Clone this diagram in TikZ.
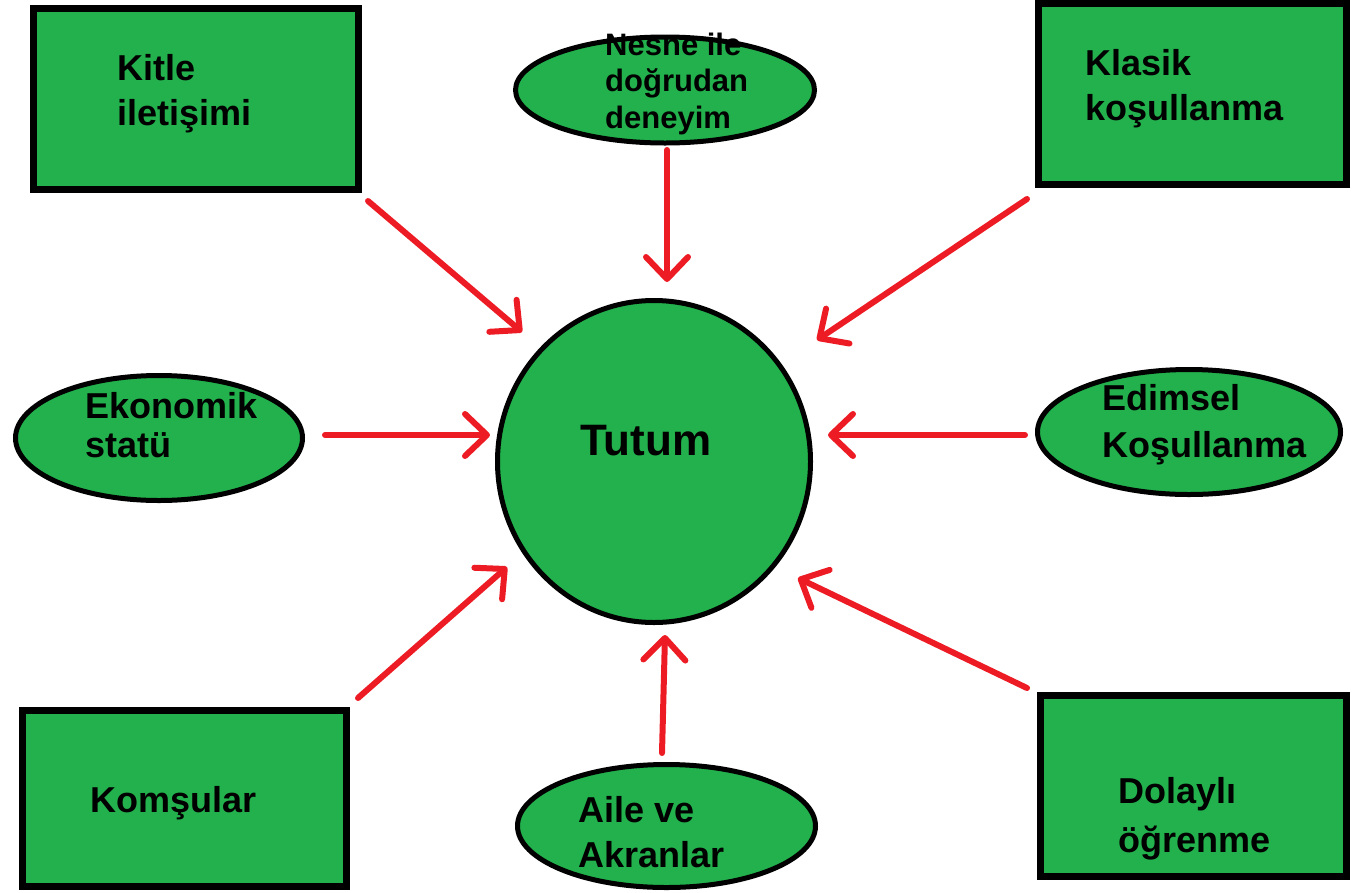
\documentclass[tikz,border=0pt]{standalone}
\usepackage{fontspec}
\setmainfont{Liberation Sans}
\usetikzlibrary{arrows.meta,shapes.geometric}
\definecolor{paintgreen}{HTML}{22B14C}
\definecolor{paintred}{HTML}{ED1C24}

\begin{document}
\begin{tikzpicture}[x=1pt,y=-1pt,
    box node/.style={rectangle,draw=black,fill=paintgreen,line width=7pt,inner sep=0pt},
    oval node/.style={ellipse,draw=black,fill=paintgreen,line width=5pt,inner sep=0pt},
    label text/.style={anchor=base west,align=left,inner sep=0pt,font=\bfseries\fontsize{36}{46}\selectfont},
    arrow line/.style={-{Straight Barb[length=22pt,width=42pt,round]},draw=paintred,line width=6pt,line cap=round}]

    \useasboundingbox (0,0) rectangle (1352,892);

    % shapes
    \node[box node, minimum width=325pt, minimum height=181pt] (kitle) at (196,99) {};
    \node[box node, minimum width=308pt, minimum height=181pt] (klasik) at (1192,94) {};
    \node[box node, minimum width=324pt, minimum height=176pt] (komsu) at (184.5,798) {};
    \node[box node, minimum width=306pt, minimum height=181pt] (dolayli) at (1193.5,786) {};
    \node[oval node, minimum width=299pt, minimum height=106pt] (nesne) at (665,90) {};
    \node[oval node, minimum width=287pt, minimum height=125pt] (ekonomik) at (159,438) {};
    \node[oval node, minimum width=303pt, minimum height=125pt] (edimsel) at (1189,432) {};
    \node[oval node, minimum width=298pt, minimum height=123pt] (aile) at (666.5,826) {};
    \node[oval node, minimum width=313pt, minimum height=322pt] (tutum) at (654,461.5) {};

    % texts (anchored at the last line's baseline)
    \node[label text, font=\bfseries\fontsize{36}{45}\selectfont] (kitle-t) at (117,125) {Kitle\\iletişimi};
    \node[label text, font=\bfseries\fontsize{36}{45}\selectfont] (klasik-t) at (1085,120) {Klasik\\koşullanma};
    \node[label text] (komsu-t) at (90,812) {Komşular};
    \node[label text, font=\bfseries\fontsize{36}{49}\selectfont] (dolayli-t) at (1118,852) {Dolaylı\\öğrenme};
    \node[label text, font=\bfseries\fontsize{31}{36.5}\selectfont] (nesne-t) at (605,128) {Nesne ile\\doğrudan\\deneyim};
    \node[label text, font=\bfseries\fontsize{36}{39}\selectfont] (ekonomik-t) at (85,457) {Ekonomik\\statü};
    \node[label text, font=\bfseries\fontsize{36}{47}\selectfont] (edimsel-t) at (1102,457) {Edimsel\\Koşullanma};
    \node[label text, font=\bfseries\fontsize{36}{45}\selectfont] (aile-t) at (578,867) {Aile ve\\Akranlar};
    \node[label text, font=\bfseries\fontsize{44}{50}\selectfont] (tutum-t) at (580,455) {Tutum};

    % arrow ends
    \coordinate (kitle-a) at (368,201);   \coordinate (tutum-nw) at (522,332);
    \coordinate (nesne-a) at (667,150);   \coordinate (tutum-n) at (667,282);
    \coordinate (klasik-a) at (1027,199); \coordinate (tutum-ne) at (817,340);
    \coordinate (ekonomik-a) at (325,435); \coordinate (tutum-w) at (490,435);
    \coordinate (edimsel-a) at (1025,435); \coordinate (tutum-e) at (828,435);
    \coordinate (komsu-a) at (358,698);   \coordinate (tutum-sw) at (507,567);
    \coordinate (aile-a) at (662,753);    \coordinate (tutum-s) at (665,635);
    \coordinate (dolayli-a) at (1027,688); \coordinate (tutum-se) at (798,578);

    \draw[arrow line] (kitle-a) -- (tutum-nw);
    \draw[arrow line] (nesne-a) -- (tutum-n);
    \draw[arrow line] (klasik-a) -- (tutum-ne);
    \draw[arrow line] (ekonomik-a) -- (tutum-w);
    \draw[arrow line] (edimsel-a) -- (tutum-e);
    \draw[arrow line] (komsu-a) -- (tutum-sw);
    \draw[arrow line] (aile-a) -- (tutum-s);
    \draw[arrow line] (dolayli-a) -- (tutum-se);
\end{tikzpicture}
\end{document}
